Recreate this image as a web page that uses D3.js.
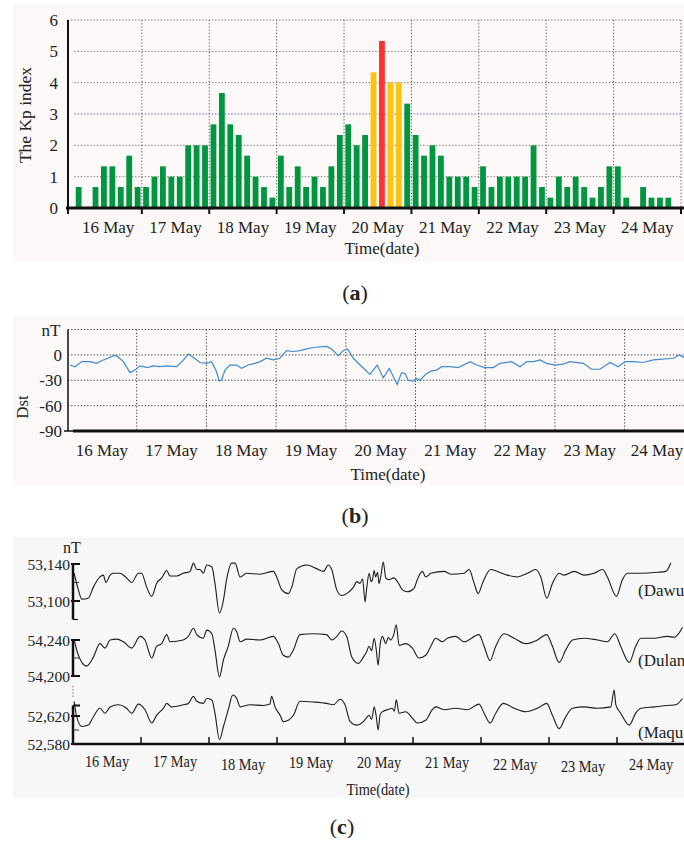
<!DOCTYPE html>
<html>
<head>
<meta charset="utf-8">
<script src="https://cdn.jsdelivr.net/npm/d3@7"></script>
<style>
  body { margin: 0; background: #fff; }
  svg text { font-family: "Liberation Serif", "Times New Roman", serif; fill: #222; }
</style>
</head>
<body>
<svg width="684" height="843"></svg>
<script>
// ---- data ----
const days = ['16 May', '17 May', '18 May', '19 May', '20 May', '21 May', '22 May', '23 May', '24 May'];

// 3-hourly Kp, 16-24 May
const kp = [
  0.67, 0, 0.67, 1.33, 1.33, 0.67, 1.67, 0.67,
  0.67, 1, 1.33, 1, 1, 2, 2, 2,
  2.67, 3.67, 2.67, 2.33, 1.67, 1, 0.67, 0.33,
  1.67, 0.67, 1.33, 0.67, 1, 0.67, 1.33, 2.33,
  2.67, 2, 2.33, 4.33, 5.33, 4, 4, 3.33,
  2.33, 1.67, 2, 1.67, 1, 1, 1, 0.67,
  1.33, 0.67, 1, 1, 1, 1, 2, 0.67,
  0.33, 1, 0.67, 1, 0.67, 0.33, 0.67, 1.33,
  1.33, 0.33, 0, 0.67, 0.33, 0.33, 0.33, 0
];
const kpTicks = [0, 1, 2, 3, 4, 5, 6];

// Dst [hour since 16 May 00:00, nT]
const dst = [[1.0,-12],[2.8,-14],[5.1,-8],[7.9,-8],[10.2,-10],[12.5,-6],[14.2,-4],[16.0,-1],[17.1,-1],[19.4,-8],
  [21.7,-21],[23.4,-18],[25.1,-13],[27.7,-15],[29.7,-13],[32.0,-14],[34.3,-13],[37.8,-14],[40.1,-6],[41.8,1],
  [43.5,-3],[45.8,-9],[48.1,-10],[49.8,-8],[51.5,-20],[52.4,-31],[53.3,-29],[54.4,-18],[56.1,-12],[58.4,-12],
  [60.1,-16],[62.4,-12],[64.7,-10],[66.5,-8],[68.7,-4],[71.0,-6],[73.3,-4],[75.6,5],[77.9,4],[80.2,5],
  [82.5,7],[85.4,9],[89.4,10],[91.1,7],[93.4,-1],[95.1,5],[96.6,7],[98.6,-4],[100.9,-12],[104.3,-23],
  [106.8,-12],[108.9,-27],[111.0,-16],[113.7,-35],[115.2,-21],[116.4,-22],[117.5,-30],[119.2,-31],[120.4,-28],[121.5,-30],
  [123.8,-22],[125.6,-19],[127.3,-18],[129.0,-14],[131.9,-14],[134.7,-15],[138.8,-8],[141.0,-12],[143.9,-15],[146.8,-15],
  [149.1,-10],[153.1,-8],[156.0,-14],[158.3,-8],[160.6,-8],[162.9,-6],[165.1,-10],[168.0,-12],[170.9,-11],[173.2,-8],
  [177.8,-10],[180.6,-17],[183.5,-17],[187.0,-9],[189.8,-14],[192.1,-8],[195.0,-8],[198.4,-9],[201.9,-6],[208.8,-4],
  [210.8,0],[212.4,-3]];
const dstTicks = [0, -30, -60, -90];

// total field at the three stations [hour, nT]
const dawu = [[0.4,53130],[1.9,53112],[3.1,53102],[5.4,53103],[7.2,53115],[9.5,53126],[10.7,53128],[11.6,53120],[13.1,53128],[14.2,53130],
  [16.6,53130],[18.9,53125],[20.7,53120],[23.1,53130],[24.2,53130],[26.0,53115],[27.8,53105],[29.5,53119],[31.3,53125],[33.1,53133],
  [34.2,53127],[36.6,53127],[38.9,53130],[41.3,53132],[42.5,53141],[43.7,53134],[44.8,53134],[46.0,53130],[47.2,53139],[49.0,53137],
  [50.1,53119],[51.7,53087],[53.1,53101],[54.2,53123],[56.0,53141],[57.2,53141],[59.0,53126],[61.3,53130],[66.0,53129],[70.7,53132],
  [71.9,53126],[73.7,53112],[76.0,53108],[77.2,53115],[79.0,53135],[82.5,53139],[86.0,53135],[88.4,53132],[90.1,53139],[91.3,53134],
  [93.1,53112],[94.8,53106],[96.6,53108],[99.0,53115],[100.2,53121],[101.3,53119],[102.2,53124],[103.1,53099],[103.6,53112],[104.5,53130],
  [105.2,53121],[105.7,53123],[106.3,53133],[106.8,53126],[107.5,53131],[108.0,53119],[108.6,53126],[109.5,53142],[110.4,53125],[111.5,53123],
  [113.3,53125],[114.5,53121],[116.3,53112],[118.0,53110],[120.4,53114],[121.5,53123],[123.3,53132],[124.5,53126],[126.3,53130],[131.0,53132],
  [133.3,53129],[138.0,53130],[139.8,53134],[141.6,53119],[143.0,53108],[144.5,53119],[147.4,53134],[149.8,53132],[153.3,53128],[156.8,53126],
  [160.4,53130],[163.3,53134],[165.1,53126],[167.2,53103],[169.2,53119],[171.6,53130],[173.3,53128],[176.9,53132],[180.4,53128],[183.9,53130],
  [186.9,53134],[188.6,53126],[191.8,53105],[193.9,53123],[195.7,53130],[200.4,53130],[206.3,53131],[209.2,53132],[211.0,53141]];
const dulan = [[0.4,54240],[1.9,54223],[4.8,54211],[7.2,54221],[9.5,54236],[11.3,54231],[13.1,54240],[15.4,54241],[17.8,54238],[20.7,54231],
  [23.7,54244],[25.4,54240],[27.8,54220],[29.5,54233],[31.3,54236],[33.1,54246],[34.2,54238],[38.9,54240],[40.7,54244],[42.5,54253],
  [43.7,54246],[46.0,54242],[47.2,54251],[49.0,54247],[50.1,54229],[51.7,54199],[53.1,54218],[54.8,54233],[56.6,54253],[57.8,54249],
  [59.0,54238],[61.3,54241],[66.0,54240],[70.7,54244],[72.5,54236],[74.2,54223],[76.0,54221],[77.8,54229],[80.1,54246],[84.8,54247],
  [89.5,54246],[91.3,54240],[93.1,54244],[94.8,54250],[96.6,54244],[98.4,54221],[100.7,54214],[102.5,54221],[103.5,54226],[104.5,54233],
  [105.4,54228],[106.3,54242],[107.0,54230],[107.7,54212],[108.4,54235],[109.2,54244],[110.4,54236],[111.3,54243],[112.1,54240],[113.2,54246],
  [114.1,54257],[115.1,54234],[117.4,54236],[119.8,54231],[122.1,54220],[124.5,54223],[126.3,54233],[128.0,54242],[130.4,54238],[132.1,54242],
  [135.1,54244],[138.0,54238],[143.3,54246],[145.1,54233],[147.2,54217],[149.2,54233],[152.1,54247],[155.7,54242],[159.8,54236],[163.9,54240],
  [167.2,54246],[169.2,54233],[171.6,54215],[173.9,54229],[176.3,54240],[180.4,54242],[185.1,54240],[188.6,54238],[191.2,54247],[193.3,54233],
  [196.3,54215],[198.6,54233],[200.4,54242],[205.1,54242],[209.8,54244],[212.2,54243],[215.1,54254]];
const maqu = [[0.4,52641],[1.3,52619],[3.1,52605],[5.4,52607],[7.2,52619],[9.5,52631],[11.3,52624],[13.1,52633],[16.0,52636],[18.9,52631],
  [20.7,52624],[23.1,52637],[25.4,52629],[27.8,52610],[29.5,52621],[31.9,52631],[33.1,52638],[34.8,52633],[38.9,52636],[40.7,52638],
  [42.5,52648],[43.7,52641],[46.0,52638],[47.2,52645],[49.0,52643],[50.1,52624],[51.7,52586],[53.1,52605],[54.8,52629],[56.4,52650],
  [57.8,52645],[59.0,52633],[62.5,52636],[67.2,52635],[69.5,52637],[70.1,52648],[71.3,52633],[73.1,52621],[74.2,52612],[76.0,52614],
  [77.8,52621],[80.1,52641],[84.8,52640],[89.5,52638],[91.9,52636],[94.3,52644],[96.0,52636],[97.8,52612],[100.1,52607],[102.5,52612],
  [103.5,52617],[104.5,52621],[105.4,52615],[106.3,52633],[107.0,52620],[107.7,52600],[108.4,52622],[109.2,52626],[111.0,52629],[112.7,52631],
  [113.4,52627],[114.1,52643],[115.1,52624],[117.4,52626],[119.8,52617],[121.5,52610],[124.5,52614],[126.8,52629],[128.0,52633],[131.0,52629],
  [135.1,52631],[139.2,52629],[143.3,52637],[145.1,52624],[147.2,52610],[149.2,52624],[151.9,52638],[155.7,52631],[159.8,52626],[163.9,52631],
  [167.2,52638],[169.2,52621],[171.6,52602],[173.9,52619],[176.3,52631],[180.4,52633],[185.1,52631],[189.8,52633],[191.0,52657],[191.6,52636],
  [193.3,52624],[196.3,52607],[198.6,52624],[200.4,52631],[205.1,52633],[209.8,52635],[212.7,52636],[215.1,52645]];
const stations = ['(Dawu', '(Dulan', '(Maqu'];
const stationTicks = [[53140, 53100], [54240, 54200], [52620, 52580]];

const svg = d3.select('svg');
const dayIdx = d3.range(days.length);
const dotted = (sel, color) => sel.attr('stroke', color).attr('stroke-width', 1).attr('stroke-dasharray', '1.2,2');
const serif = '"Liberation Serif", serif';

// ================= (a) Kp =================
const xa = d3.scaleLinear().domain([-2.3, 216]).range([68, 681]);
const ya = d3.scaleLinear().domain([0, 6]).range([208, 20]);
const ga = svg.append('g');
ga.append('rect').attr('x', 13).attr('y', 4).attr('width', 671).attr('height', 258).attr('fill', '#fbf8f7');

ga.selectAll('.hg').data(kpTicks.slice(1)).join('line')
  .attr('x1', d => d === 6 ? xa(-2.3) : xa(0)).attr('x2', xa(216))
  .attr('y1', d => ya(d)).attr('y2', d => ya(d))
  .call(dotted, '#666')
  .attr('stroke', d => d === 3 ? '#4040c0' : '#666');
ga.selectAll('.vg').data(d3.range(1, 10)).join('line')
  .attr('x1', d => xa(d * 24)).attr('x2', d => xa(d * 24))
  .attr('y1', ya(6)).attr('y2', ya(0))
  .call(dotted, '#555');

ga.selectAll('.bar').data(kp).join('rect')
  .attr('x', (d, i) => xa(i * 3) + 1.3)
  .attr('width', 5.8)
  .attr('y', d => ya(d))
  .attr('height', d => ya(0) - ya(d))
  .attr('fill', d => d >= 5 ? '#ff3131' : d >= 4 ? '#ffc20e' : '#00963f');

ga.append('line').attr('x1', 68).attr('x2', 68).attr('y1', ya(6)).attr('y2', ya(0))
  .attr('stroke', '#111').attr('stroke-width', 2);
ga.append('line').attr('x1', 66).attr('x2', 684).attr('y1', ya(0)).attr('y2', ya(0))
  .attr('stroke', '#111').attr('stroke-width', 3);
ga.selectAll('.xt').data([-2.3 / 24, ...d3.range(1, 10)]).join('line')
  .attr('x1', d => xa(d * 24)).attr('x2', d => xa(d * 24))
  .attr('y1', ya(0)).attr('y2', ya(0) + 6)
  .attr('stroke', '#111').attr('stroke-width', 2);

const axA = ga.append('g').attr('transform', 'translate(68,0)')
  .call(d3.axisLeft(ya).tickValues(kpTicks).tickFormat(d => String(d)).tickSize(0).tickPadding(10));
axA.select('.domain').remove();
axA.selectAll('text').attr('font-size', 17).attr('font-family', serif).attr('fill', '#222');

ga.selectAll('.xl').data(dayIdx).join('text')
  .attr('x', d => xa(d * 24 + 12)).attr('y', 233)
  .attr('text-anchor', 'middle').attr('font-size', 17).text(d => days[d]);
ga.append('text').attr('x', 382).attr('y', 254).attr('text-anchor', 'middle')
  .attr('font-size', 17).text('Time(date)');
ga.append('text').attr('transform', 'translate(31,115) rotate(-90)').attr('text-anchor', 'middle')
  .attr('font-size', 17.5).text('The Kp index');

// ================= (b) Dst =================
const xb = d3.scaleLinear().domain([0, 216]).range([67, 694.3]);
const yb = d3.scaleLinear().domain([-90, 30]).range([431, 329.5]);
const gb = svg.append('g');
gb.append('rect').attr('x', 13).attr('y', 315).attr('width', 671).attr('height', 171).attr('fill', '#fbf8f7');

gb.selectAll('.hg').data([30, 0, -30, -60]).join('line')
  .attr('x1', 68).attr('x2', 684)
  .attr('y1', d => yb(d)).attr('y2', d => yb(d))
  .call(dotted, '#333');
gb.selectAll('.vg').data(d3.range(1, 9)).join('line')
  .attr('x1', d => xb(d * 24)).attr('x2', d => xb(d * 24))
  .attr('y1', yb(30)).attr('y2', yb(-90))
  .call(dotted, '#333');

gb.append('path').datum(dst)
  .attr('d', d3.line().x(d => xb(d[0])).y(d => yb(d[1])))
  .attr('fill', 'none').attr('stroke', '#3f8bd0').attr('stroke-width', 1.2);

gb.append('line').attr('x1', 68).attr('x2', 68).attr('y1', yb(30)).attr('y2', yb(-90))
  .attr('stroke', '#111').attr('stroke-width', 1.5);
gb.append('line').attr('x1', 73).attr('x2', 684).attr('y1', yb(-90)).attr('y2', yb(-90))
  .attr('stroke', '#111').attr('stroke-width', 3);
gb.append('line').attr('x1', 64).attr('x2', 74).attr('y1', yb(-90)).attr('y2', yb(-90))
  .attr('stroke', '#111').attr('stroke-width', 1.5);

const axB = gb.append('g').attr('transform', 'translate(66,0)')
  .call(d3.axisLeft(yb).tickValues(dstTicks).tickFormat(d => String(d)).tickSize(0).tickPadding(4));
axB.select('.domain').remove();
axB.selectAll('text').attr('font-size', 17).attr('font-family', serif).attr('fill', '#222');
gb.append('text').attr('x', 51).attr('y', 336).attr('text-anchor', 'middle').attr('font-size', 17).text('nT');

gb.selectAll('.xl').data(dayIdx).join('text')
  .attr('x', d => Math.min(xb(d * 24 + 12), 657)).attr('y', 456)
  .attr('text-anchor', 'middle').attr('font-size', 17).text(d => days[d]);
gb.append('text').attr('x', 388).attr('y', 480).attr('text-anchor', 'middle')
  .attr('font-size', 17).text('Time(date)');
gb.append('text').attr('transform', 'translate(28,407) rotate(-90)').attr('text-anchor', 'middle')
  .attr('font-size', 17).text('Dst');

// ================= (c) stations =================
const xc = d3.scaleLinear().domain([0, 216]).range([73, 685]);
const yc = [
  d3.scaleLinear().domain([53100, 53140]).range([601, 564]),
  d3.scaleLinear().domain([54200, 54240]).range([676, 640]),
  d3.scaleLinear().domain([52580, 52620]).range([744, 716])
];
const series = [dawu, dulan, maqu];
const gc = svg.append('g');
gc.append('rect').attr('x', 13).attr('y', 537).attr('width', 671).attr('height', 261).attr('fill', '#f7f7f7');

series.forEach((s, k) => {
  gc.append('path').datum(s)
    .attr('d', d3.line().curve(d3.curveMonotoneX).x(d => xc(d[0])).y(d => yc[k](d[1])))
    .attr('fill', 'none').attr('stroke', '#1c1c1c').attr('stroke-width', 1.1);
});

// left brackets
const brackets = [[53140, 53080], [54240, 54200], [52635, 52580]];
brackets.forEach((b, k) => {
  gc.append('line').attr('x1', 73).attr('x2', 73).attr('y1', yc[k](b[0])).attr('y2', yc[k](b[1]))
    .attr('stroke', '#111').attr('stroke-width', 2.5);
  gc.selectAll('.tk' + k).data(stationTicks[k]).join('line')
    .attr('x1', 71).attr('x2', 80)
    .attr('y1', d => yc[k](d)).attr('y2', d => yc[k](d))
    .attr('stroke', '#111').attr('stroke-width', 2);
  const mid = (stationTicks[k][0] + stationTicks[k][1]) / 2;
  gc.append('line').attr('x1', 73).attr('x2', 79).attr('y1', yc[k](mid)).attr('y2', yc[k](mid))
    .attr('stroke', '#333').attr('stroke-width', 1);
  gc.selectAll('.tl' + k).data(stationTicks[k]).join('text')
    .attr('x', 70).attr('y', d => yc[k](d) + 5.5)
    .attr('text-anchor', 'end').attr('font-size', 15.5).text(d => d3.format(',')(d));
  gc.append('text').attr('x', 638).attr('y', [596, 666, 738][k])
    .attr('font-size', 17).text(stations[k]);
});
gc.append('line').attr('x1', 73).attr('x2', 78).attr('y1', yc[0](53080)).attr('y2', yc[0](53080))
  .attr('stroke', '#111').attr('stroke-width', 1.2);
gc.append('line').attr('x1', 73).attr('x2', 73).attr('y1', 686).attr('y2', 698)
  .call(dotted, '#555');
gc.append('line').attr('x1', 73).attr('x2', 80).attr('y1', yc[2](52635)).attr('y2', yc[2](52635))
  .attr('stroke', '#111').attr('stroke-width', 2);
gc.append('text').attr('x', 72).attr('y', 553).attr('text-anchor', 'middle').attr('font-size', 16).text('nT');

gc.append('line').attr('x1', 73).attr('x2', 684).attr('y1', 744).attr('y2', 744)
  .attr('stroke', '#111').attr('stroke-width', 2.5);
gc.selectAll('.xt').data(d3.range(1, 10)).join('line')
  .attr('x1', d => xc(d * 24)).attr('x2', d => xc(d * 24))
  .attr('y1', 744).attr('y2', 737)
  .attr('stroke', '#111').attr('stroke-width', 1.5);

const labelDrop = [0, 0, 3, 1, 1, 1, 3, 5, 3];
gc.selectAll('.xl').data(dayIdx).join('text')
  .attr('transform', d => `translate(${xc(d * 24 + 12)},${767 + labelDrop[d]}) scale(0.87,1)`)
  .attr('text-anchor', 'middle').attr('font-size', 16.5).text(d => days[d]);
gc.append('text').attr('transform', 'translate(378,795) scale(0.87,1)').attr('text-anchor', 'middle')
  .attr('font-size', 16.5).text('Time(date)');

// ---- panel letters ----
const letters = [['a', 355, 300], ['b', 355, 523], ['c', 342, 834]];
letters.forEach(([l, x, y]) => {
  const t = svg.append('text').attr('x', x).attr('y', y).attr('text-anchor', 'middle').attr('font-size', 22);
  t.append('tspan').text('(');
  t.append('tspan').attr('font-weight', 'bold').text(l);
  t.append('tspan').text(')');
});
</script>
</body>
</html>
